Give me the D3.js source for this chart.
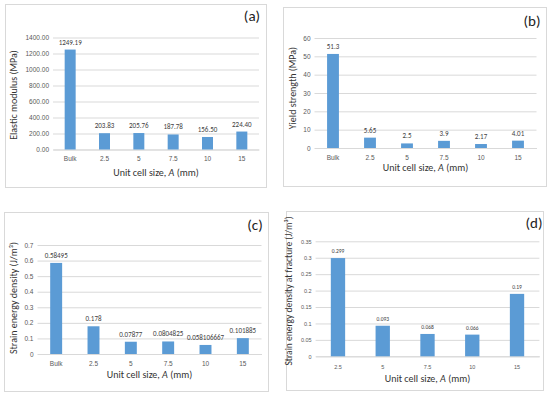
<!DOCTYPE html>
<html>
<head>
<meta charset="utf-8">
<style>
  body { margin: 0; background: #fff; }
  svg { font-family: Carlito, Calibri, "Open Sans", sans-serif; }
</style>
</head>
<body>
  <svg id="svg" width="550" height="396"></svg>

  <script src="https://cdn.jsdelivr.net/npm/d3@7"></script>
  <script type="text/javascript">
  // data
  const catsBulk = ["Bulk", "2.5", "5", "7.5", "10", "15"];
  const catsCell = ["2.5", "5", "7.5", "10", "15"];
  const elasticModulus = [1249.19, 203.83, 205.76, 187.78, 156.50, 224.40];
  const yieldStrength = [51.3, 5.65, 2.5, 3.9, 2.17, 4.01];
  const strainEnergy = [0.58495, 0.178, 0.07877, 0.0804825, 0.058106667, 0.101885];
  const strainFracture = [0.299, 0.093, 0.068, 0.066, 0.19];
  const ticksA = [0, 200, 400, 600, 800, 1000, 1200, 1400];
  const ticksB = [0, 10, 20, 30, 40, 50, 60];
  const ticksC = [0, 0.1, 0.2, 0.3, 0.4, 0.5, 0.6, 0.7];
  const ticksD = [0, 0.05, 0.1, 0.15, 0.2, 0.25, 0.3, 0.35];

  const svg = d3.select("#svg");
  const barColor = "#5b9bd5";
  const gridColor = "#d9d9d9";

  function panel(p) {
    let g = svg.append("g");
    // frame
    g.append("rect")
      .attr("x", p.box[0] + 0.5).attr("y", p.box[1] + 0.5)
      .attr("width", p.box[2] - p.box[0]).attr("height", p.box[3] - p.box[1])
      .attr("fill", "#fff").attr("stroke", "#d9d9d9");

    let x = d3.scaleBand().domain(p.cats).range(p.xr)
      .paddingInner(0.68).paddingOuter(0.34);
    let y = d3.scaleLinear().domain([0, p.ticks[p.ticks.length - 1]]).range(p.yr);

    // gridlines + y tick labels
    let ya = d3.axisLeft(y).tickValues(p.ticks).tickFormat(p.tickFmt)
      .tickSize(-(p.xr[1] - p.xr[0])).tickPadding(4);
    let yg = g.append("g").attr("transform", `translate(${p.xr[0]},0)`).call(ya);
    yg.select(".domain").remove();
    yg.selectAll(".tick line").attr("stroke", gridColor);
    yg.selectAll(".tick text").attr("fill", "#595959").style("font-size", p.tickSize + "px")
      .attr("font-family", null);

    // x axis labels
    let xa = d3.axisBottom(x).tickSize(0).tickPadding(p.xTickPad);
    let xg = g.append("g").attr("transform", `translate(0,${p.yr[0]})`).call(xa);
    xg.select(".domain").attr("stroke", gridColor);
    xg.selectAll(".tick text").attr("fill", "#595959").style("font-size", p.tickSize + "px")
      .attr("font-family", null);

    // bars
    g.selectAll("rect.bar").data(p.values).enter().append("rect")
      .attr("class", "bar")
      .attr("x", (d, i) => x(p.cats[i]))
      .attr("width", x.bandwidth())
      .attr("y", d => y(d))
      .attr("height", d => y(0) - y(d))
      .attr("fill", barColor);

    // data labels
    g.selectAll("text.lbl").data(p.values).enter().append("text")
      .attr("class", "lbl")
      .attr("x", (d, i) => x(p.cats[i]) + x.bandwidth() / 2)
      .attr("y", d => y(d) - 5)
      .attr("text-anchor", "middle")
      .attr("fill", "#404040")
      .style("font-size", p.lblSize + "px")
      .text(p.lblFmt);

    // axis titles
    g.append("text")
      .attr("transform", `translate(${p.yTitle[0]},${p.yTitle[1]}) rotate(-90)`)
      .attr("text-anchor", "middle").attr("dy", "0.35em")
      .attr("fill", "#333").style("font-size", (p.yTitleSize || p.titleSize) + "px")
      .text(p.yLabel);
    let xt = g.append("text")
      .attr("x", (p.xr[0] + p.xr[1]) / 2).attr("y", p.xTitleY)
      .attr("text-anchor", "middle")
      .attr("fill", "#333").style("font-size", p.titleSize + "px");
    xt.append("tspan").text("Unit cell size, ");
    xt.append("tspan").attr("font-style", "italic").text("A");
    xt.append("tspan").text(" (mm)");

    // panel letter
    g.append("text")
      .attr("x", p.letter[0]).attr("y", p.letter[1])
      .attr("text-anchor", "middle").attr("fill", "#222")
      .style("font-size", "15px")
      .text(p.tag);
  }

  panel({
    box: [5, 4, 266, 187], xr: [53, 259], yr: [149.5, 37.5],
    cats: catsBulk, values: elasticModulus, ticks: ticksA,
    tickFmt: d => d.toFixed(2), lblFmt: d => d.toFixed(2),
    tickSize: 6.5, lblSize: 7, titleSize: 10, xTickPad: 7,
    yLabel: "Elastic modulus (MPa)", yTitle: [13, 95], xTitleY: 175.5,
    letter: [252, 21], tag: "(a)"
  });
  panel({
    box: [283, 7, 546, 186], xr: [314.5, 536.5], yr: [148, 38],
    cats: catsBulk, values: yieldStrength, ticks: ticksB,
    tickFmt: d => String(d), lblFmt: d => String(d),
    tickSize: 6.5, lblSize: 7, titleSize: 10, xTickPad: 7,
    yLabel: "Yield strength (MPa)", yTitle: [292, 88], xTitleY: 170.5,
    letter: [532, 26], tag: "(b)"
  });
  panel({
    box: [4, 212, 268, 391], xr: [37.5, 261.5], yr: [354, 245],
    cats: catsBulk, values: strainEnergy, ticks: ticksC,
    tickFmt: d => String(d), lblFmt: d => String(d),
    tickSize: 6.5, lblSize: 7, titleSize: 10, xTickPad: 7,
    yLabel: "Strain energy density (J/m³)", yTitle: [13, 298], xTitleY: 378,
    letter: [255, 230], tag: "(c)"
  });
  panel({
    box: [286, 211, 543, 390], xr: [315.6, 539.4], yr: [356.3, 241.3],
    cats: catsCell, values: strainFracture, ticks: ticksD,
    tickFmt: d => String(d), lblFmt: d => String(d),
    tickSize: 5.5, lblSize: 5.5, titleSize: 10, yTitleSize: 9.5, xTickPad: 9,
    yLabel: "Strain energy density at fracture (J/m³)", yTitle: [289, 291], xTitleY: 381.5,
    letter: [534, 228], tag: "(d)"
  });
  </script>
</body>
</html>
